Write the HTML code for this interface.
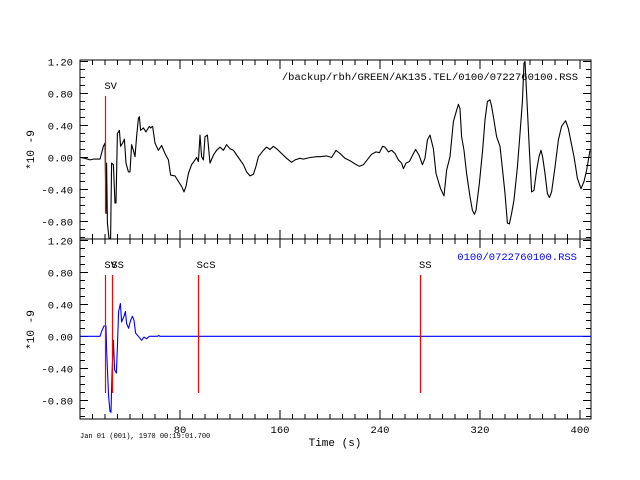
<!DOCTYPE html>
<html><head><meta charset="utf-8"><style>
html,body{margin:0;padding:0;background:#fff;}
svg{display:block;font-family:"Liberation Mono","DejaVu Sans Mono",monospace;}
</style></head><body>
<svg id="chart" width="640" height="480" viewBox="0 0 640 480" xmlns="http://www.w3.org/2000/svg">
<rect width="640" height="480" fill="#fff"/>
<g id="axes"></g>
<g id="series"></g>
<g id="picks"></g>
<text x="578" y="80" font-size="10.5" text-anchor="end" fill="#000">/backup/rbh/GREEN/AK135.TEL/0100/0722760100.RSS</text>
<text x="577" y="260" font-size="10.5" text-anchor="end" fill="#00f">0100/0722760100.RSS</text>
<text x="335" y="446" font-size="11" text-anchor="middle" fill="#000">Time (s)</text>
<text x="80" y="438" font-size="7" fill="#000">Jan 01 (001), 1970 00:19:01.700</text>
<text transform="translate(34,150) rotate(-90)" font-size="11" text-anchor="middle" fill="#000">*10 -9</text>
<text transform="translate(34,330) rotate(-90)" font-size="11" text-anchor="middle" fill="#000">*10 -9</text>
</svg>
<script>
const topTimes=[0.5,4,8,10.7,16,18.7,20,20.8,21.3,21.9,23.2,24.5,25.3,26.7,28,28.8,29.9,31.5,32.5,34.1,35.5,36.8,38.7,40,41.3,42.7,44,45.3,46.7,47.5,48.5,50.7,52.8,55.5,56.5,58.1,60,62.7,65.3,68,70.7,72.5,76,78.7,81.3,83.2,84.8,86.7,89.3,92,93.3,94.7,96,97.3,98.7,100,101.9,104,106.7,109.3,112,114.7,117.3,120,122.7,126.7,130.7,133.3,136,138.7,140.8,142.7,146.7,149.3,152,154.7,157.3,161.3,165.3,169.3,172,176,178.7,184,189.3,
192,197.3,201.3,204.8,208,212,216,220,223.5,226.7,230.7,233.3,236.8,239.5,242.1,244,246.7,249.3,252,254.7,257.3,258.7,260.8,263.5,266.1,268.5,271.2,273.9,276,277.9,280,282.7,284.8,286.7,288.5,291.2,293.3,296,298.7,301.3,302.7,304,305.3,307.2,309.3,312,313.9,315.5,316.8,319.5,322.1,324,325.9,328,329.3,330.7,333.3,336,338.1,340,341.9,343.5,345.3,347.2,349.9,352,353.9,355.2,356,357.3,359.5,361.3,363.2,365.3,367.2,368.8,370.1,372,373.9,375.5,377.3,380,382.7,385.3,388.5,390.7,392.5,395.2,397.9,400.8,403.2,405.3,408];
const topValues=[0,-0.01,-0.03,-0.02,-0.02,0.14,0.18,-0.70,-0.07,-0.82,-1.01,-1.01,-0.07,-0.09,-0.57,-0.57,0.30,0.34,0.14,0.18,0.23,-0.07,-0.18,-0.18,0.16,0.09,0.01,0.26,0.49,0.51,0.34,0.37,0.32,0.39,0.37,0.39,0.18,0.09,0.15,0.05,-0.03,-0.22,-0.23,-0.3,-0.36,-0.43,-0.36,-0.2,-0.09,-0.03,0,-0.05,0.28,0.01,-0.03,0.26,0.28,-0.07,0.03,0.09,0.13,0.09,0.16,0.11,0.09,0,-0.09,-0.18,-0.23,-0.21,-0.11,0.01,0.09,0.13,0.1,0.14,0.11,0.05,-0.01,-0.06,-0.03,-0.01,-0.02,0,0.01,
0.01,0.02,0,0.09,0.05,-0.01,-0.04,-0.08,-0.11,-0.09,-0.01,0.04,0.07,0.06,0.14,0.13,0.07,0.09,0.05,-0.03,-0.07,-0.14,-0.07,-0.05,0.03,0.1,0.03,-0.09,-0.01,0.22,0.28,0.11,-0.2,-0.3,-0.39,-0.48,-0.16,0.01,0.45,0.59,0.665,0.61,0.26,0.09,-0.2,-0.49,-0.66,-0.71,-0.66,-0.32,0.09,0.47,0.70,0.72,0.64,0.51,0.26,0.14,-0.16,-0.45,-0.82,-0.83,-0.70,-0.53,-0.12,0.30,0.70,1.18,1.2,0.80,0.09,-0.43,-0.41,-0.16,0.01,0.09,0.01,-0.2,-0.45,-0.5,-0.43,-0.12,0.22,0.39,0.46,0.36,0.22,0.01,-0.26,-0.39,-0.3,-0.16,0.09];
const botTimes=[0.5,16,17.3,19.2,20.8,21.3,22.1,22.9,24,24.8,25.6,26.7,27.7,29.1,29.9,30.9,32.3,33.3,35.2,36.3,37.3,38.9,40.5,41.9,43.2,44.5,46.7,49.3,51.2,53.3,55.5,57.3,62,63,64,409];
const botValues=[0,0,0.06,0.13,0.13,-0.17,-0.46,-0.75,-0.94,-0.95,-0.46,-0.05,-0.42,-0.46,-0.13,0.31,0.41,0.18,0.25,0.31,0.16,0.1,0.2,0.25,0.2,0.04,0,-0.05,-0.01,-0.03,0,0,0,0.01,0,0];
const topPickTimes=[20.3];
const topPickLabels=["SV"];
const botPickTimes=[20.3,25.9,94.1,272];
const botPickLabels=["SV","SS","ScS","SS"];
const xTickLabels=["80","160","240","320","400"];
const xTickValues=[80,160,240,320,400];
const yTickValues=[1.2,0.8,0.4,0,-0.4,-0.8];
const yTickLabels=["1.20","0.80","0.40","0.00","-0.40","-0.80"];

const NS="http://www.w3.org/2000/svg";
const L=80,R=591,T=60,M=239,B=419;
const xS=t=>L+t*1.25;
const yTop=v=>157.5-v*80;
const yBot=v=>336.3-v*80;
const axes=document.getElementById('axes'),ser=document.getElementById('series'),pk=document.getElementById('picks');
function mk(tag,at,parent){const e=document.createElementNS(NS,tag);for(const k in at)e.setAttribute(k,at[k]);parent.appendChild(e);return e;}
function ln(x1,y1,x2,y2,c,p){return mk('line',{x1,y1,x2,y2,stroke:c||'#000','stroke-width':1,'shape-rendering':'crispEdges'},p||axes);}

const f1=mk('rect',{x:L,y:T,width:R-L,height:M-T,fill:'none',stroke:'#000','shape-rendering':'crispEdges'},axes);


const f2=mk('rect',{x:L,y:M,width:R-L,height:B-M,fill:'none',stroke:'#000','shape-rendering':'crispEdges'},axes);



for(let t=0;t<=409;t+=10){
  const x=xS(t),maj=(t%80===0&&t>0),len=maj?9:5;
  ln(x,T,x,T+len);ln(x,M,x,M-len);ln(x,M,x,M+len);ln(x,B,x,B-len);
}
for(let i=-10;i<=12;i++){
  const v=i/10,maj=(i%4===0),len=maj?8:5;
  const y1=yTop(v),y2=yBot(v);
  if(y1>=T-0.5&&y1<=M+0.5){ln(L,y1,L+len,y1);ln(R,y1,R-len,y1);}
  if(y2>=M-0.5&&y2<=B+0.5){ln(L,y2,L+len,y2);ln(R,y2,R-len,y2);}
}
yTickValues.forEach((v,i)=>{
  const a=mk('text',{x:73,y:yTop(v)+4,'font-size':10.5,'text-anchor':'end',fill:'#000'},axes);a.textContent=yTickLabels[i];
  
  
  const b=mk('text',{x:73,y:yBot(v)+4,'font-size':10.5,'text-anchor':'end',fill:'#000'},axes);b.textContent=yTickLabels[i];
  
  
});
xTickValues.forEach((t,i)=>{
  const a=mk('text',{x:xS(t),y:433,'font-size':10.5,'text-anchor':'middle',fill:'#000'},axes);a.textContent=xTickLabels[i];
  
  
});

function trace(ts,vs,yf,col,name){
  const n=Math.min(ts.length,vs.length);let d='';
  for(let i=0;i<n;i++)d+=(i?'L':'M')+xS(ts[i]).toFixed(1)+','+yf(vs[i]).toFixed(1);
  const p=mk('path',{d,fill:'none',stroke:col,'stroke-width':1.1,'stroke-linejoin':'round'},ser);
  
  
}
trace(topTimes,topValues,yTop,'#000','top-trace');
trace(botTimes,botValues,yBot,'#00f','bottom-trace');

function picks(times,labels,y1,y2,ly,pre){
  times.forEach((t,i)=>{
    const x=Math.round(xS(t))+0.5;
    const l=mk('line',{x1:x,y1:y1,x2:x,y2:y2,stroke:'#f00','stroke-width':1.2},pk);
    
    
    const tx=mk('text',{x:xS(t)-1,y:ly,'font-size':10.5,fill:'#000'},pk);tx.textContent=labels[i];
    
    
  });
}
picks(topPickTimes,topPickLabels,96,213,89,'top');
picks(botPickTimes,botPickLabels,275,393,268,'bottom');
</script>
</body></html>
